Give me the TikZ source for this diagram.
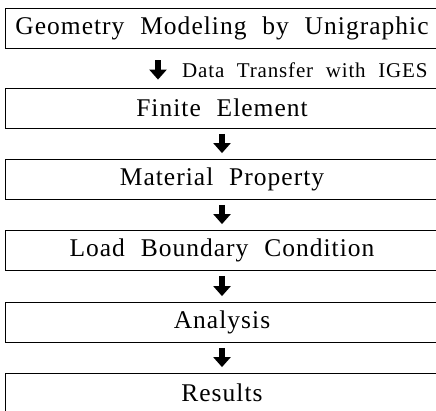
\documentclass[tikz,border=0pt]{standalone}
\usepackage{fontspec}
\setmainfont{Liberation Serif}
\usepackage{tikz}
\usetikzlibrary{arrows.meta, positioning, calc}

\newcommand{\stagefont}{\fontsize{25.5}{29}\selectfont\addfontfeature{LetterSpace=4}\spaceskip=0.62em\relax}
\newcommand{\labelfont}{\fontsize{21}{24}\selectfont\addfontfeature{LetterSpace=4}\spaceskip=0.6em\relax}

\tikzset{
    stagebox/.style={draw, line width=0.8pt, minimum width=433pt, minimum height=40pt,
        inner sep=0pt, font=\stagefont},
    flowarrow/.style={line width=6pt, -{Triangle[width=17pt, length=10pt]}},
    sidelabel/.style={font=\labelfont, anchor=west, inner sep=0pt}
}

\begin{document}
\begin{tikzpicture}[x=1pt, y=-1pt]
    \def\h{40}
    \useasboundingbox (0,0) rectangle (436,411);
    \clip (0,0) rectangle (436,411);
    % Stages
    \foreach \t/\n/\txt in {8/geo/{Geometry Modeling by Unigraphic},
                            88/fem/{Finite Element},
                            159/mat/{Material Property},
                            230/load/{Load Boundary Condition},
                            302/ana/{Analysis},
                            373/res/{Results}} {
        \node[stagebox] (\n) at (222, \t+\h/2) {\txt};
    }
    % First transfer, shifted left with its label
    \draw[flowarrow, shorten <=12pt, shorten >=8pt] ([xshift=-64pt]geo.south) -- ([xshift=-64pt]fem.north);
    \node[sidelabel] (xfer) at (182, 70) {Data Transfer with IGES};
    % Remaining steps
    \foreach \a/\b in {fem/mat, mat/load, load/ana, ana/res} {
        \draw[flowarrow, shorten <=5.5pt, shorten >=5.5pt] (\a.south) -- (\b.north);
    }
\end{tikzpicture}
\end{document}
